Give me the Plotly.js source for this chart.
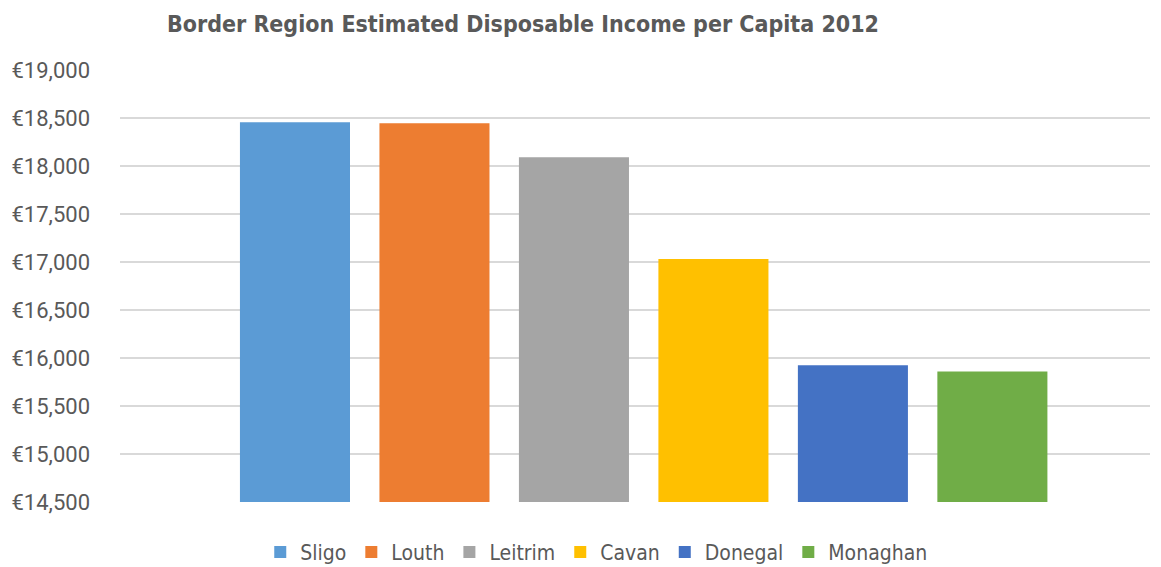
<!DOCTYPE html>
<html>
<head>
<meta charset="utf-8">
<script src="https://cdn.plot.ly/plotly-3.0.1.min.js"></script>
<style>
  html, body { margin: 0; padding: 0; background: #fff; }
  #chart { width: 1161px; height: 567px; }
</style>
</head>
<body>
<div id="chart"></div>
<script>
// Estimated disposable income per capita, 2012 (euro), by county
const counties = ["Sligo", "Louth", "Leitrim", "Cavan", "Donegal", "Monaghan"];
const incomes = [18455, 18445, 18090, 17030, 15925, 15860];
const barColors = ["#5b9bd5", "#ed7d31", "#a5a5a5", "#ffc000", "#4472c4", "#70ad47"];
const yTicks = [14500, 15000, 15500, 16000, 16500, 17000, 17500, 18000, 18500, 19000];
const yTickText = yTicks.map(v => "\u20ac" + v.toLocaleString("en-US"));

const traces = counties.map((name, i) => ({
  type: "bar",
  name: name,
  x: [name],
  y: [incomes[i]],
  marker: { color: barColors[i] },
  hoverinfo: "name+y"
}));

const narrow = "DejaVu Sans Condensed, Liberation Sans Narrow, Arial Narrow, sans-serif";

const layout = {
  width: 1161,
  height: 567,
  paper_bgcolor: "#ffffff",
  plot_bgcolor: "#ffffff",
  margin: { l: 120, r: 11, t: 70, b: 65 },
  title: {
    text: "<b>Border Region Estimated Disposable Income per Capita 2012</b>",
    font: { family: narrow, size: 23, color: "#595959" },
    xref: "container", yref: "container",
    x: 0.1438, xanchor: "left",
    y: 0.958, yanchor: "middle"
  },
  barmode: "overlay",
  bargap: 0.211,
  showlegend: true,
  legend: {
    orientation: "h",
    xref: "container", yref: "container",
    x: 0.514, xanchor: "center",
    y: 0.026, yanchor: "middle",
    font: { family: narrow, size: 21, color: "#595959" },
    itemwidth: 30,
    traceorder: "normal"
  },
  xaxis: {
    type: "category",
    range: [-1.2545, 6.13],
    showticklabels: false,
    showgrid: false,
    zeroline: false,
    showline: false,
    ticks: ""
  },
  yaxis: {
    range: [14500, 19000],
    tickmode: "array",
    tickvals: yTicks,
    ticktext: yTickText,
    showgrid: true,
    gridcolor: "#d9d9d9",
    gridwidth: 1.5,
    zeroline: false,
    showline: false,
    ticks: "",
    ticklabelstandoff: 29,
    tickfont: { family: "Roboto, sans-serif", size: 22, color: "#595959" }
  }
};

Plotly.newPlot("chart", traces, layout, { displayModeBar: false, staticPlot: true });
</script>
</body>
</html>
